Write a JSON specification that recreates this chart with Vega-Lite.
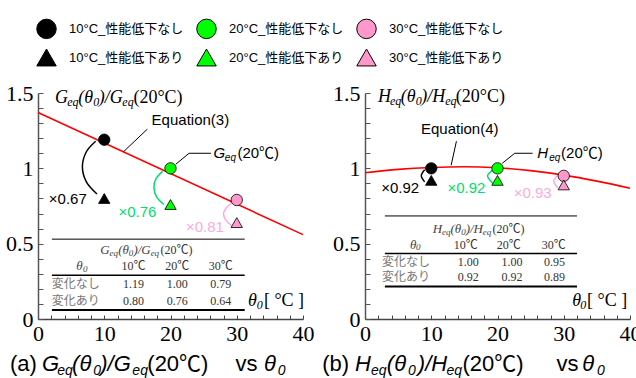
{
  "$schema": "https://vega.github.io/schema/vega-lite/v6.json",
  "padding": {"left": 5, "top": 18, "right": 5, "bottom": 5},
  "data": {"values": [
    {"p":"a","k":"pt","t":10,"v":1.19,"s":"10°C_性能低下なし"},
    {"p":"a","k":"pt","t":20,"v":1.00,"s":"20°C_性能低下なし"},
    {"p":"a","k":"pt","t":30,"v":0.79,"s":"30°C_性能低下なし"},
    {"p":"a","k":"pt","t":10,"v":0.80,"s":"10°C_性能低下あり"},
    {"p":"a","k":"pt","t":20,"v":0.76,"s":"20°C_性能低下あり"},
    {"p":"a","k":"pt","t":30,"v":0.64,"s":"30°C_性能低下あり"},
    {"p":"b","k":"pt","t":10,"v":1.00,"s":"10°C_性能低下なし"},
    {"p":"b","k":"pt","t":20,"v":1.00,"s":"20°C_性能低下なし"},
    {"p":"b","k":"pt","t":30,"v":0.95,"s":"30°C_性能低下なし"},
    {"p":"b","k":"pt","t":10,"v":0.92,"s":"10°C_性能低下あり"},
    {"p":"b","k":"pt","t":20,"v":0.92,"s":"20°C_性能低下あり"},
    {"p":"b","k":"pt","t":30,"v":0.89,"s":"30°C_性能低下あり"},

    {"p":"a","k":"eq","t":0,"v":1.37},
    {"p":"a","k":"eq","t":40,"v":0.56},
    {"p":"b","k":"eq","t":0,"v":0.971},
    {"p":"b","k":"eq","t":5,"v":0.993},
    {"p":"b","k":"eq","t":10,"v":1.006},
    {"p":"b","k":"eq","t":15,"v":1.011},
    {"p":"b","k":"eq","t":20,"v":1.004},
    {"p":"b","k":"eq","t":25,"v":0.985},
    {"p":"b","k":"eq","t":30,"v":0.955},
    {"p":"b","k":"eq","t":35,"v":0.915},
    {"p":"b","k":"eq","t":40,"v":0.868},

    {"p":"a","k":"arc","g":"a10","c":"10","o":1,"t":8.7,"v":1.18},
    {"p":"a","k":"arc","g":"a10","c":"10","o":2,"t":7.3,"v":1.11},
    {"p":"a","k":"arc","g":"a10","c":"10","o":3,"t":6.7,"v":1.01},
    {"p":"a","k":"arc","g":"a10","c":"10","o":4,"t":7.3,"v":0.91},
    {"p":"a","k":"arc","g":"a10","c":"10","o":5,"t":8.9,"v":0.83},
    {"p":"a","k":"arc","g":"a20","c":"20","o":1,"t":18.8,"v":0.98},
    {"p":"a","k":"arc","g":"a20","c":"20","o":2,"t":17.8,"v":0.93},
    {"p":"a","k":"arc","g":"a20","c":"20","o":3,"t":17.5,"v":0.875},
    {"p":"a","k":"arc","g":"a20","c":"20","o":4,"t":17.9,"v":0.81},
    {"p":"a","k":"arc","g":"a20","c":"20","o":5,"t":19.0,"v":0.76},
    {"p":"a","k":"arc","g":"a30","c":"30","o":1,"t":29.2,"v":0.77},
    {"p":"a","k":"arc","g":"a30","c":"30","o":2,"t":28.3,"v":0.73},
    {"p":"a","k":"arc","g":"a30","c":"30","o":3,"t":28.0,"v":0.70},
    {"p":"a","k":"arc","g":"a30","c":"30","o":4,"t":28.3,"v":0.66},
    {"p":"a","k":"arc","g":"a30","c":"30","o":5,"t":29.2,"v":0.62},
    {"p":"b","k":"arc","g":"b10","c":"10","o":1,"t":9.0,"v":0.99},
    {"p":"b","k":"arc","g":"b10","c":"10","o":2,"t":8.5,"v":0.95},
    {"p":"b","k":"arc","g":"b10","c":"10","o":3,"t":9.0,"v":0.91},
    {"p":"b","k":"arc","g":"b20","c":"20","o":1,"t":19.3,"v":0.99},
    {"p":"b","k":"arc","g":"b20","c":"20","o":2,"t":18.5,"v":0.95},
    {"p":"b","k":"arc","g":"b20","c":"20","o":3,"t":19.3,"v":0.90},
    {"p":"b","k":"arc","g":"b30","c":"30","o":1,"t":29.1,"v":0.954},
    {"p":"b","k":"arc","g":"b30","c":"30","o":2,"t":28.5,"v":0.916},
    {"p":"b","k":"arc","g":"b30","c":"30","o":3,"t":29.1,"v":0.87},

    {"p":"a","k":"lead","g":"la1","o":1,"t":16.5,"v":1.26},
    {"p":"a","k":"lead","g":"la1","o":2,"t":12.9,"v":1.11},
    {"p":"a","k":"lead","g":"la2","o":1,"t":20.8,"v":1.027},
    {"p":"a","k":"lead","g":"la2","o":2,"t":22.8,"v":1.10},
    {"p":"a","k":"lead","g":"la2","o":3,"t":26.1,"v":1.10},
    {"p":"b","k":"lead","g":"lb1","o":1,"t":13.8,"v":1.18},
    {"p":"b","k":"lead","g":"lb1","o":2,"t":13.0,"v":1.02},
    {"p":"b","k":"lead","g":"lb2","o":1,"t":20.7,"v":1.033},
    {"p":"b","k":"lead","g":"lb2","o":2,"t":22.6,"v":1.10},
    {"p":"b","k":"lead","g":"lb2","o":3,"t":25.3,"v":1.10},

    {"p":"a","k":"tl","w":"top","t":2.1,"t2":31.2,"v":0.53},
    {"p":"a","k":"tl","w":"mid","t":2.1,"t2":31.2,"v":0.29},
    {"p":"a","k":"tl","w":"bot","t":2.1,"t2":31.2,"v":0.06},
    {"p":"b","k":"tl","w":"top","t":3.0,"t2":32.0,"v":0.684},
    {"p":"b","k":"tl","w":"mid","t":3.0,"t2":32.0,"v":0.434},
    {"p":"b","k":"tl","w":"bot","t":3.0,"t2":32.0,"v":0.215},

    {"p":"a","k":"ti","t":2.58,"v":1.434,"s":"G"},
    {"p":"a","k":"ti","t":6.06,"v":1.434,"s":"(θ"},
    {"p":"a","k":"ti","t":9.17,"v":1.434,"s":")/G"},
    {"p":"a","k":"ti","t":31.7,"v":0.086,"s":"θ"},
    {"p":"a","k":"tis","t":4.4,"v":1.414,"s":"eq"},
    {"p":"a","k":"tis","t":8.33,"v":1.414,"s":"0"},
    {"p":"a","k":"tis","t":12.73,"v":1.414,"s":"eq"},
    {"p":"a","k":"tis","t":33.0,"v":0.066,"s":"0"},
    {"p":"a","k":"tr","t":14.4,"v":1.434,"s":"(20°C)"},
    {"p":"a","k":"tr","t":34.1,"v":0.086,"s":"[ °C ]"},
    {"p":"a","k":"bi","t":9.39,"v":0.433,"s":"G"},
    {"p":"a","k":"bi","t":12.1,"v":0.433,"s":"(θ"},
    {"p":"a","k":"bi","t":14.4,"v":0.433,"s":")/G"},
    {"p":"a","k":"bi","t":5.76,"v":0.325,"s":"θ"},
    {"p":"a","k":"bis","t":10.8,"v":0.42,"s":"eq"},
    {"p":"a","k":"bis","t":13.7,"v":0.42,"s":"0"},
    {"p":"a","k":"bis","t":17.0,"v":0.42,"s":"eq"},
    {"p":"a","k":"bis","t":6.8,"v":0.312,"s":"0"},
    {"p":"a","k":"br","t":20.9,"v":0.433,"s":"(20℃)"},
    {"p":"a","k":"br","t":14.4,"v":0.325,"s":"10℃"},
    {"p":"a","k":"br","t":21.0,"v":0.325,"s":"20℃"},
    {"p":"a","k":"br","t":27.6,"v":0.325,"s":"30℃"},
    {"p":"a","k":"br","t":14.4,"v":0.208,"s":"1.19"},
    {"p":"a","k":"br","t":21.0,"v":0.208,"s":"1.00"},
    {"p":"a","k":"br","t":27.6,"v":0.208,"s":"0.79"},
    {"p":"a","k":"br","t":14.4,"v":0.093,"s":"0.80"},
    {"p":"a","k":"br","t":21.0,"v":0.093,"s":"0.76"},
    {"p":"a","k":"br","t":27.6,"v":0.093,"s":"0.64"},
    {"p":"a","k":"bj","t":5.7,"v":0.208,"s":"変化なし"},
    {"p":"a","k":"bj","t":5.7,"v":0.093,"s":"変化あり"},
    {"p":"a","k":"an","t":23.0,"v":1.288,"s":"Equation(3)"},
    {"p":"a","k":"mul","t":4.5,"v":0.76,"s":"×0.67","c":"10"},
    {"p":"a","k":"mul","t":15.0,"v":0.68,"s":"×0.76","c":"20"},
    {"p":"a","k":"mul","t":25.2,"v":0.58,"s":"×0.81","c":"30"},
    {"p":"a","k":"ai","t":26.5,"v":1.07,"s":"G"},
    {"p":"a","k":"ais","t":28.2,"v":1.05,"s":"eq"},
    {"p":"a","k":"ar","t":30.1,"v":1.07,"s":"(20℃)"},
    {"p":"a","k":"cr","t":-4.24,"v":-0.345,"s":"(a)"},
    {"p":"a","k":"cr","t":16.5,"v":-0.345,"s":"(20℃)"},
    {"p":"a","k":"cr","t":29.8,"v":-0.345,"s":"vs"},
    {"p":"a","k":"ci","t":0.61,"v":-0.345,"s":"G"},
    {"p":"a","k":"ci","t":5.15,"v":-0.345,"s":"(θ"},
    {"p":"a","k":"ci","t":9.39,"v":-0.345,"s":")/G"},
    {"p":"a","k":"ci","t":34.1,"v":-0.345,"s":"θ"},
    {"p":"a","k":"cis","t":2.9,"v":-0.37,"s":"eq"},
    {"p":"a","k":"cis","t":8.33,"v":-0.37,"s":"0"},
    {"p":"a","k":"cis","t":14.24,"v":-0.37,"s":"eq"},
    {"p":"a","k":"cis","t":36.2,"v":-0.37,"s":"0"},

    {"p":"b","k":"ti","t":1.95,"v":1.44,"s":"H"},
    {"p":"b","k":"ti","t":5.41,"v":1.44,"s":"(θ"},
    {"p":"b","k":"ti","t":8.5,"v":1.44,"s":")/H"},
    {"p":"b","k":"ti","t":31.3,"v":0.086,"s":"θ"},
    {"p":"b","k":"tis","t":3.76,"v":1.42,"s":"eq"},
    {"p":"b","k":"tis","t":7.67,"v":1.42,"s":"0"},
    {"p":"b","k":"tis","t":12.1,"v":1.42,"s":"eq"},
    {"p":"b","k":"tis","t":32.5,"v":0.066,"s":"0"},
    {"p":"b","k":"tr","t":13.7,"v":1.44,"s":"(20°C)"},
    {"p":"b","k":"tr","t":33.5,"v":0.086,"s":"[ °C ]"},
    {"p":"b","k":"bi","t":10.23,"v":0.573,"s":"H"},
    {"p":"b","k":"bi","t":12.89,"v":0.573,"s":"(θ"},
    {"p":"b","k":"bi","t":15.19,"v":0.573,"s":")/H"},
    {"p":"b","k":"bi","t":6.8,"v":0.467,"s":"θ"},
    {"p":"b","k":"bis","t":11.64,"v":0.56,"s":"eq"},
    {"p":"b","k":"bis","t":14.51,"v":0.56,"s":"0"},
    {"p":"b","k":"bis","t":17.79,"v":0.56,"s":"eq"},
    {"p":"b","k":"bis","t":7.7,"v":0.455,"s":"0"},
    {"p":"b","k":"br","t":21.65,"v":0.573,"s":"(20℃)"},
    {"p":"b","k":"br","t":15.2,"v":0.467,"s":"10℃"},
    {"p":"b","k":"br","t":21.7,"v":0.467,"s":"20℃"},
    {"p":"b","k":"br","t":28.5,"v":0.467,"s":"30℃"},
    {"p":"b","k":"br","t":15.6,"v":0.352,"s":"1.00"},
    {"p":"b","k":"br","t":22.2,"v":0.352,"s":"1.00"},
    {"p":"b","k":"br","t":28.6,"v":0.352,"s":"0.95"},
    {"p":"b","k":"br","t":15.6,"v":0.252,"s":"0.92"},
    {"p":"b","k":"br","t":22.2,"v":0.252,"s":"0.92"},
    {"p":"b","k":"br","t":28.6,"v":0.252,"s":"0.89"},
    {"p":"b","k":"bj","t":6.2,"v":0.352,"s":"変化なし"},
    {"p":"b","k":"bj","t":6.2,"v":0.252,"s":"変化あり"},
    {"p":"b","k":"an","t":14.3,"v":1.228,"s":"Equation(4)"},
    {"p":"b","k":"mul","t":5.3,"v":0.836,"s":"×0.92","c":"10"},
    {"p":"b","k":"mul","t":15.3,"v":0.836,"s":"×0.92","c":"20"},
    {"p":"b","k":"mul","t":25.3,"v":0.805,"s":"×0.93","c":"30"},
    {"p":"b","k":"ai","t":26.0,"v":1.07,"s":"H"},
    {"p":"b","k":"ais","t":27.8,"v":1.05,"s":"eq"},
    {"p":"b","k":"ar","t":29.6,"v":1.07,"s":"(20℃)"},
    {"p":"b","k":"cr","t":-6.47,"v":-0.345,"s":"(b)"},
    {"p":"b","k":"cr","t":14.7,"v":-0.345,"s":"(20℃)"},
    {"p":"b","k":"cr","t":28.9,"v":-0.345,"s":"vs"},
    {"p":"b","k":"ci","t":-1.5,"v":-0.345,"s":"H"},
    {"p":"b","k":"ci","t":3.3,"v":-0.345,"s":"(θ"},
    {"p":"b","k":"ci","t":7.97,"v":-0.345,"s":")/H"},
    {"p":"b","k":"ci","t":32.8,"v":-0.345,"s":"θ"},
    {"p":"b","k":"cis","t":0.9,"v":-0.37,"s":"eq"},
    {"p":"b","k":"cis","t":6.5,"v":-0.37,"s":"0"},
    {"p":"b","k":"cis","t":12.3,"v":-0.37,"s":"eq"},
    {"p":"b","k":"cis","t":35.0,"v":-0.37,"s":"0"}
  ]},
  "facet": {"column": {"field": "p", "type": "nominal", "title": null, "header": {"labels": false, "title": null}}},
  "spacing": 62,
  "bounds": "flush",
  "resolve": {"axis": {"y": "independent"}},
  "spec": {
    "width": 265,
    "height": 226,
    "encoding": {
      "x": {"field": "t", "type": "quantitative",
        "scale": {"domain": [0, 40], "nice": false, "zero": false},
        "axis": {"values": [0,2,4,6,8,10,12,14,16,18,20,22,24,26,28,30,32,34,36,38,40],
          "labelExpr": "datum.value % 10 == 0 ? datum.label : ''",
          "tickSize": -4, "labelPadding": 8, "labelFont": "Liberation Serif", "labelFontSize": 22,
          "labelColor": "#000", "domainColor": "#444", "domainWidth": 1.5, "tickColor": "#444",
          "title": null, "grid": false, "labelFlush": false, "labelOverlap": false}},
      "y": {"field": "v", "type": "quantitative",
        "scale": {"domain": [0, 1.5], "nice": false, "zero": false},
        "axis": {"values": [0,0.1,0.2,0.3,0.4,0.5,0.6,0.7,0.8,0.9,1,1.1,1.2,1.3,1.4,1.5],
          "labelExpr": "datum.value == 0 ? '0' : datum.value == 0.5 ? '0.5' : datum.value == 1 ? '1' : datum.value == 1.5 ? '1.5' : ''",
          "tickSize": -5, "labelPadding": 10, "labelFont": "Liberation Serif", "labelFontSize": 22,
          "labelColor": "#000", "domainColor": "#555", "domainWidth": 1.5, "tickColor": "#555",
          "title": null, "grid": false, "labelFlush": false, "labelOverlap": false}}
    },
    "layer": [
      {"transform": [{"filter": "datum.k == 'tl'"}],
       "mark": {"type": "rule", "color": "#000"},
       "encoding": {"x2": {"field": "t2"},
         "strokeWidth": {"field": "w", "type": "nominal", "scale": {"domain": ["top","mid","bot"], "range": [1, 2, 3]}, "legend": null}}},
      {"transform": [{"filter": "datum.k == 'eq'"}],
       "mark": {"type": "line", "color": "#ff0000", "strokeWidth": 1.6, "interpolate": "monotone"},
       "encoding": {}},
      {"transform": [{"filter": "datum.k == 'arc'"}],
       "mark": {"type": "line", "strokeWidth": 1.5, "interpolate": "catmull-rom"},
       "encoding": {"detail": {"field": "g"}, "order": {"field": "o", "type": "quantitative"},
         "stroke": {"field": "c", "type": "nominal", "scale": {"domain": ["10","20","30"], "range": ["#000000","#00dd70","#ffaadd"]}, "legend": null}}},
      {"transform": [{"filter": "datum.k == 'lead'"}],
       "mark": {"type": "line", "strokeWidth": 1, "color": "#000"},
       "encoding": {"detail": {"field": "g"}, "order": {"field": "o", "type": "quantitative"}}},
      {"transform": [{"filter": "datum.k == 'pt'"}],
       "mark": {"type": "point", "filled": true, "size": 130, "stroke": "#000", "strokeWidth": 0.8, "opacity": 1},
       "encoding": {
         "color": {"field": "s", "type": "nominal",
           "scale": {"domain": ["10°C_性能低下なし","20°C_性能低下なし","30°C_性能低下なし","10°C_性能低下あり","20°C_性能低下あり","30°C_性能低下あり"],
                     "range": ["#000000","#00ff00","#ff99cc","#000000","#00ff00","#ff99cc"]},
           "legend": {"orient": "none", "legendX": -2, "legendY": -75, "columns": 3, "direction": "horizontal", "title": null,
             "symbolSize": 380, "symbolStrokeColor": "#000", "symbolStrokeWidth": 1,
             "labelFont": "Liberation Sans, Noto Sans CJK JP", "labelFontSize": 13, "labelColor": "#000",
             "labelOffset": 12, "rowPadding": 6, "columnPadding": 10, "labelLimit": 300}},
         "shape": {"field": "s", "type": "nominal",
           "scale": {"domain": ["10°C_性能低下なし","20°C_性能低下なし","30°C_性能低下なし","10°C_性能低下あり","20°C_性能低下あり","30°C_性能低下あり"],
                     "range": ["circle","circle","circle","triangle-up","triangle-up","triangle-up"]},
           "legend": {"orient": "none", "legendX": -2, "legendY": -75, "columns": 3, "direction": "horizontal", "title": null,
             "symbolSize": 380, "symbolStrokeColor": "#000", "symbolStrokeWidth": 1,
             "labelFont": "Liberation Sans, Noto Sans CJK JP", "labelFontSize": 13, "labelColor": "#000",
             "labelOffset": 12, "rowPadding": 6, "columnPadding": 10, "labelLimit": 300}}}},
      {"transform": [{"filter": "datum.k == 'ti'"}],
       "mark": {"type": "text", "font": "Liberation Serif", "fontStyle": "italic", "fontSize": 18, "align": "left", "baseline": "alphabetic", "color": "#000"},
       "encoding": {"text": {"field": "s"}}},
      {"transform": [{"filter": "datum.k == 'tis'"}],
       "mark": {"type": "text", "font": "Liberation Serif", "fontStyle": "italic", "fontSize": 12, "align": "left", "baseline": "alphabetic", "color": "#000"},
       "encoding": {"text": {"field": "s"}}},
      {"transform": [{"filter": "datum.k == 'tr'"}],
       "mark": {"type": "text", "font": "Liberation Serif", "fontSize": 18, "align": "left", "baseline": "alphabetic", "color": "#000"},
       "encoding": {"text": {"field": "s"}}},
      {"transform": [{"filter": "datum.k == 'bi'"}],
       "mark": {"type": "text", "font": "Liberation Serif", "fontStyle": "italic", "fontSize": 13, "align": "left", "baseline": "alphabetic", "color": "#444"},
       "encoding": {"text": {"field": "s"}}},
      {"transform": [{"filter": "datum.k == 'bis'"}],
       "mark": {"type": "text", "font": "Liberation Serif", "fontStyle": "italic", "fontSize": 9, "align": "left", "baseline": "alphabetic", "color": "#444"},
       "encoding": {"text": {"field": "s"}}},
      {"transform": [{"filter": "datum.k == 'br'"}],
       "mark": {"type": "text", "font": "Liberation Serif, Noto Sans CJK JP", "fontSize": 12, "align": "center", "baseline": "alphabetic", "color": "#333"},
       "encoding": {"text": {"field": "s"}}},
      {"transform": [{"filter": "datum.k == 'bj'"}],
       "mark": {"type": "text", "font": "Noto Sans CJK JP", "fontSize": 12, "align": "center", "baseline": "alphabetic", "color": "#777"},
       "encoding": {"text": {"field": "s"}}},
      {"transform": [{"filter": "datum.k == 'an'"}],
       "mark": {"type": "text", "font": "Liberation Sans", "fontSize": 15, "align": "center", "baseline": "alphabetic", "color": "#000"},
       "encoding": {"text": {"field": "s"}}},
      {"transform": [{"filter": "datum.k == 'mul'"}],
       "mark": {"type": "text", "font": "Liberation Sans", "fontSize": 15, "align": "center", "baseline": "alphabetic"},
       "encoding": {"text": {"field": "s"},
         "fill": {"field": "c", "type": "nominal", "scale": {"domain": ["10","20","30"], "range": ["#000000","#00dd70","#ffaadd"]}, "legend": null}}},
      {"transform": [{"filter": "datum.k == 'ai'"}],
       "mark": {"type": "text", "font": "Liberation Sans", "fontStyle": "italic", "fontSize": 15, "align": "left", "baseline": "alphabetic", "color": "#000"},
       "encoding": {"text": {"field": "s"}}},
      {"transform": [{"filter": "datum.k == 'ais'"}],
       "mark": {"type": "text", "font": "Liberation Sans", "fontStyle": "italic", "fontSize": 10, "align": "left", "baseline": "alphabetic", "color": "#000"},
       "encoding": {"text": {"field": "s"}}},
      {"transform": [{"filter": "datum.k == 'ar'"}],
       "mark": {"type": "text", "font": "Liberation Sans, Noto Sans CJK JP", "fontSize": 15, "align": "left", "baseline": "alphabetic", "color": "#000"},
       "encoding": {"text": {"field": "s"}}},
      {"transform": [{"filter": "datum.k == 'cr'"}],
       "mark": {"type": "text", "font": "Liberation Sans, Noto Sans CJK JP", "fontSize": 22, "align": "left", "baseline": "alphabetic", "color": "#000"},
       "encoding": {"text": {"field": "s"}}},
      {"transform": [{"filter": "datum.k == 'ci'"}],
       "mark": {"type": "text", "font": "Liberation Sans", "fontStyle": "italic", "fontSize": 22, "align": "left", "baseline": "alphabetic", "color": "#000"},
       "encoding": {"text": {"field": "s"}}},
      {"transform": [{"filter": "datum.k == 'cis'"}],
       "mark": {"type": "text", "font": "Liberation Sans", "fontStyle": "italic", "fontSize": 14, "align": "left", "baseline": "alphabetic", "color": "#000"},
       "encoding": {"text": {"field": "s"}}}
    ]
  },
  "config": {"view": {"stroke": null}, "font": "Liberation Sans"}
}
